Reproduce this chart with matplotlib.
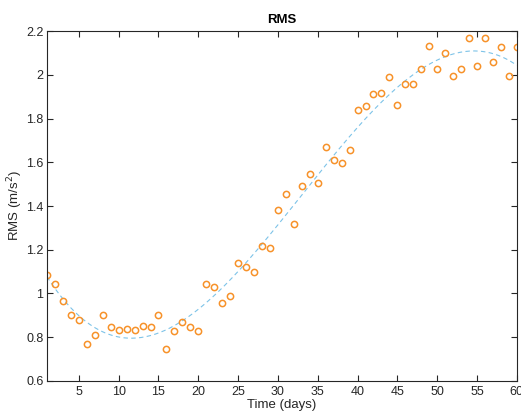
import matplotlib.pyplot as plt
import numpy as np

plt.rcParams["font.family"] = ["Liberation Sans", "DejaVu Sans"]

days = list(range(1, 61))
rms = [1.085, 1.043, 0.966, 0.902, 0.880, 0.770, 0.810, 0.900, 0.847, 0.833,
       0.838, 0.833, 0.850, 0.847, 0.900, 0.746, 0.830, 0.870, 0.847, 0.830,
       1.045, 1.030, 0.955, 0.990, 1.140, 1.120, 1.100, 1.215, 1.210, 1.380,
       1.455, 1.320, 1.490, 1.545, 1.505, 1.670, 1.610, 1.596, 1.655, 1.840,
       1.857, 1.910, 1.915, 1.990, 1.860, 1.960, 1.957, 2.025, 2.130, 2.025,
       2.100, 1.995, 2.025, 2.168, 2.040, 2.168, 2.060, 2.127, 1.995, 2.127]

yticks = [0.6, 0.8, 1.0, 1.2, 1.4, 1.6, 1.8, 2.0, 2.2]
ytick_labels = ["0.6", "0.8", "1", "1.2", "1.4", "1.6", "1.8", "2", "2.2"]
xticks = list(range(5, 61, 5))


def main():
    fig = plt.figure(figsize=(5.21, 4.19), dpi=100)
    ax = fig.add_axes([0.0902, 0.0907, 0.9018, 0.8353])

    x = np.array(days, dtype=float)
    y = np.array(rms)
    coef = np.polyfit(x, y, 4)
    xs = np.linspace(1, 60, 300)
    ax.plot(xs, np.polyval(coef, xs), linestyle=(0, (4, 3)), color="#7DC3E8",
            linewidth=0.8)
    ax.plot(x, y, "o", markerfacecolor="none", markeredgecolor="#F7922A",
            markersize=4.5, markeredgewidth=1.1)

    ax.set_xlim(1, 60)
    ax.set_ylim(0.6, 2.2)
    ax.set_xticks(xticks)
    ax.set_yticks(yticks)
    ax.set_yticklabels(ytick_labels)
    ax.tick_params(direction="in", length=4, width=0.8, colors="#262626",
                   labelsize=9, top=True, right=True)
    ax.tick_params(axis="y", pad=2.5)
    for s in ax.spines.values():
        s.set_linewidth(0.8)
        s.set_color("#262626")

    ax.set_title("RMS", fontsize=9.5, fontweight="bold", pad=6)
    ax.set_xlabel("Time (days)", fontsize=9.5, color="#262626", labelpad=1)
    ax.set_ylabel("RMS (m/s$^2$)", fontsize=9.5, color="#262626", labelpad=0.5)

    fig.savefig("out.png", dpi=100)


if __name__ == "__main__":
    main()
